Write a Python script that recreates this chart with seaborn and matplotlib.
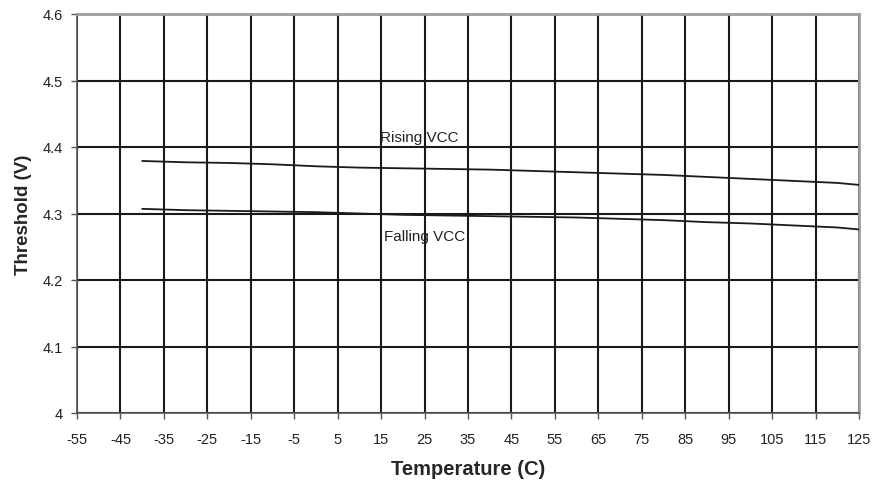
import matplotlib
matplotlib.use("Agg")
import matplotlib.pyplot as plt
import seaborn as sns
import pandas as pd

temps = [-40, -30, -20, -10, 0, 10, 20, 30, 40, 50, 60, 70, 80, 90, 100, 110, 120, 125]
rising_vcc = [4.379, 4.377, 4.376, 4.374, 4.371, 4.369, 4.368, 4.367, 4.366,
              4.364, 4.362, 4.360, 4.358, 4.355, 4.352, 4.349, 4.346, 4.343]
falling_vcc = [4.307, 4.305, 4.304, 4.303, 4.302, 4.300, 4.298, 4.297, 4.296,
               4.295, 4.294, 4.292, 4.290, 4.287, 4.285, 4.282, 4.279, 4.276]
x_ticks = list(range(-55, 126, 10))
y_ticks = [4.0, 4.1, 4.2, 4.3, 4.4, 4.5, 4.6]
y_tick_labels = ["4", "4.1", "4.2", "4.3", "4.4", "4.5", "4.6"]

df = pd.DataFrame({
    "Temperature": temps * 2,
    "Threshold": rising_vcc + falling_vcc,
    "Series": ["Rising VCC"] * len(temps) + ["Falling VCC"] * len(temps),
})

sns.set_style("white")
plt.rcParams["font.family"] = ["Liberation Sans", "DejaVu Sans"]
plt.rcParams["axes.unicode_minus"] = False

fig = plt.figure(figsize=(8.81, 4.85), dpi=100)
ax = fig.add_axes([77 / 881, 1 - 414 / 485, (859 - 77) / 881, (414 - 15) / 485])

sns.lineplot(data=df, x="Temperature", y="Threshold", units="Series", estimator=None,
             color="#1a1a1a", linewidth=1.3, ax=ax, legend=False, zorder=3)

ax.set_xlim(-55, 125)
ax.set_ylim(4.0, 4.6)
ax.set_xticks(x_ticks)
ax.set_yticks(y_ticks)
ax.set_yticklabels(y_tick_labels)
ax.grid(True, color="#1a1a1a", linewidth=1.5)
ax.set_axisbelow(True)

for side in ["left", "bottom"]:
    ax.spines[side].set_color("#555555")
    ax.spines[side].set_linewidth(1.2)
for side in ["top", "right"]:
    ax.spines[side].set_color("#9a9da3")
    ax.spines[side].set_linewidth(2)

ax.tick_params(axis="both", which="major", direction="out", length=4, width=1,
               color="#555555", labelsize=10.5, labelcolor="#222222", left=True, bottom=True)
ax.tick_params(axis="x", pad=10)
ax.tick_params(axis="y", pad=6)

ax.set_xlabel("Temperature (C)", fontsize=14.5, fontweight="bold", labelpad=9)
ax.set_ylabel("Threshold (V)", fontsize=13.5, fontweight="bold", labelpad=8)

ax.text(14.8, 4.4155, "Rising VCC", fontsize=11, va="center", ha="left", color="#222222")
ax.text(15.6, 4.2655, "Falling VCC", fontsize=11, va="center", ha="left", color="#222222")

fig.savefig("out.png", dpi=100)
